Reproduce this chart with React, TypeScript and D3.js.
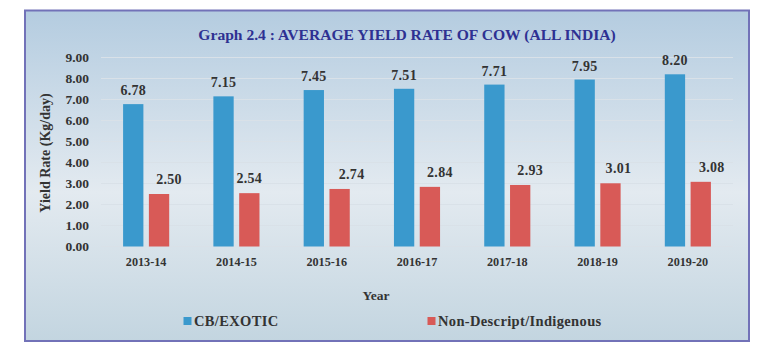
import React from "react";
import * as d3 from "d3";

const categories = ["2013-14", "2014-15", "2015-16", "2016-17", "2017-18", "2018-19", "2019-20"];
const cbExotic = [6.78, 7.15, 7.45, 7.51, 7.71, 7.95, 8.2];
const indigenous = [2.5, 2.54, 2.74, 2.84, 2.93, 3.01, 3.08];
const yTicks = [0, 1, 2, 3, 4, 5, 6, 7, 8, 9];
const seriesNames = ["CB/EXOTIC", "Non-Descript/Indigenous"];
const colors = ["#3a99cd", "#d85a57"];

export default function App() {
  const W = 768, H = 355;
  const left = 101, right = 733, top = 57.5, bottom = 246.5;
  const x = d3.scaleBand<string>().domain(categories).range([left, right]);
  const y = d3.scaleLinear().domain([0, 9]).range([bottom, top]);
  const barW = 20.3, gap = 5.5;
  const font = "Liberation Serif, Times New Roman, DejaVu Serif, serif";
  const series = [cbExotic, indigenous];
  // manual label nudges seen in the original (horizontal, px)
  const labelNudge = [
    [0, 0, 0, 0, 0, 0, 0],
    [10, 0, 12, 10, 10, 8, 11],
  ];
  const labelGap = [9, 10];
  return (
    <svg width={W} height={H} style={{ position: "absolute", left: 0, top: 0, fontFamily: font }}>
      <defs>
        <linearGradient id="bg" x1="0" y1="0" x2="0" y2="1">
          <stop offset="0" stopColor="#b4cce0" />
          <stop offset="0.55" stopColor="#e3eaf0" />
          <stop offset="1" stopColor="#c3d5e0" />
        </linearGradient>
      </defs>
      <rect x={25} y={10.5} width={724} height={330.5} fill="url(#bg)" stroke="#7272b8" strokeWidth={2} />
      <text x={407} y={40} textAnchor="middle" fontSize={15.6} fontWeight="bold" fill="#2e3192" style={{ fontFamily: font }}>
        Graph 2.4 : AVERAGE YIELD RATE OF COW (ALL INDIA)
      </text>
      {yTicks.map((t) => (
        <g key={t}>
          <line x1={left} x2={right} y1={y(t)} y2={y(t)} stroke="#d9e1e8" strokeWidth={1.2} />
          <text x={89} y={y(t) + 4.5} textAnchor="end" fontSize={13.5} fontWeight="bold" fill="#333" style={{ fontFamily: font }}>
            {t.toFixed(2)}
          </text>
        </g>
      ))}
      <text
        transform={`translate(50,153) rotate(-90)`}
        textAnchor="middle"
        fontSize={14}
        fontWeight="bold"
        fill="#333"
        style={{ fontFamily: font }}
      >
        Yield Rate (Kg/day)
      </text>
      {categories.map((c, i) => {
        const cx = (x(c) as number) + x.bandwidth() / 2;
        return (
          <g key={c}>
            {series.map((s, k) => {
              const bx = k === 0 ? cx - gap / 2 - barW : cx + gap / 2;
              return (
                <g key={k}>
                  <rect x={bx} y={y(s[i])} width={barW} height={bottom - y(s[i])} fill={colors[k]} />
                  <text
                    x={bx + barW / 2 + labelNudge[k][i]}
                    y={y(s[i]) - labelGap[k]}
                    textAnchor="middle"
                    fontSize={14}
                    letterSpacing={0.3}
                    fontWeight="bold"
                    fill="#333"
                    style={{ fontFamily: font }}
                  >
                    {s[i].toFixed(2)}
                  </text>
                </g>
              );
            })}
            <text x={cx} y={266} textAnchor="middle" fontSize={12.2} fontWeight="bold" fill="#333" style={{ fontFamily: font }}>
              {c}
            </text>
          </g>
        );
      })}
      <text x={376} y={300} textAnchor="middle" fontSize={13.5} fontWeight="bold" fill="#333" style={{ fontFamily: font }}>
        Year
      </text>
      {seriesNames.map((n, k) => {
        const lx = k === 0 ? 183.5 : 427.5;
        return (
          <g key={n}>
            <rect x={lx} y={317} width={8} height={8} fill={colors[k]} />
            <text x={lx + 10.5} y={325.5} fontSize={14.5} letterSpacing={0.35} fontWeight="bold" fill="#333" style={{ fontFamily: font }}>
              {n}
            </text>
          </g>
        );
      })}
    </svg>
  );
}
